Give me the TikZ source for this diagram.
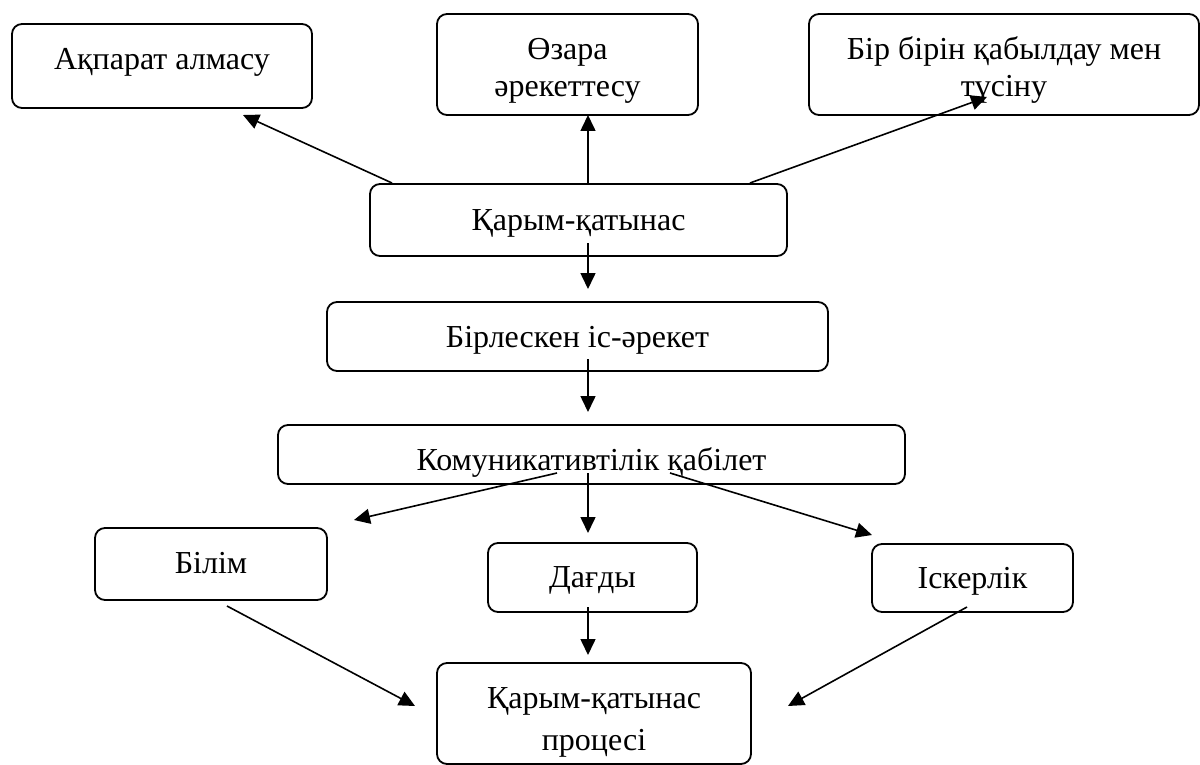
\documentclass[tikz,border=0pt]{standalone}
\usepackage{fontspec}
\setmainfont{Liberation Serif}
\usetikzlibrary{arrows.meta}
\tikzset{
  box/.style={draw, rounded corners=5pt, line width=0.9pt, inner sep=0pt, outer sep=0pt,
    anchor=base, font=\fontsize{16}{18.4}\selectfont},
  arr/.style={line width=0.8pt, -{Triangle[length=8pt,width=7.5pt]}}
}
\begin{document}
\begin{tikzpicture}[x=0.5pt,y=-0.5pt]
\useasboundingbox (0,0) rectangle (1200,765);
% boxes
\node[box, minimum width=150pt, text height=23pt, text depth=19pt] (A) at (162,70) {Ақпарат алмасу};
\node[box, minimum width=130.5pt, text height=23pt, text depth=27.5pt] (B) at (567.5,60)
  {\begin{tabular}[t]{@{}c@{}}Өзара\\әрекеттесу\end{tabular}};
\node[box, minimum width=195pt, text height=23pt, text depth=27.5pt] (C) at (1004,60)
  {\begin{tabular}[t]{@{}c@{}}Бір бірін қабылдау мен\\түсіну\end{tabular}};
\node[box, minimum width=208.5pt, text height=23pt, text depth=13pt] (D) at (578.5,230) {Қарым-қатынас};
\node[box, minimum width=250.5pt, text height=22.5pt, text depth=12pt] (E) at (577.5,347) {Бірлескен іс-әрекет};
\node[box, minimum width=313.5pt, text height=22.5pt, text depth=7pt] (F) at (591.5,470) {Комуникативтілік қабілет};
\node[box, minimum width=116pt, text height=22.5pt, text depth=13.5pt] (G) at (211,573) {Білім};
\node[box, minimum width=104.5pt, text height=22pt, text depth=12.5pt] (H) at (592.5,587) {Дағды};
\node[box, minimum width=100.5pt, text height=22pt, text depth=12pt] (I) at (972.5,588) {Іскерлік};
\node[box, minimum width=157pt, text height=22.5pt, text depth=28pt] (J) at (594,708)
  {\begin{tabular}[t]{@{}c@{}}Қарым-қатынас\\[2.6pt]процесі\end{tabular}};
% connectors
\draw[arr] ([xshift=11pt,yshift=0.5pt]D.north west) -- ([xshift=115.5pt,yshift=-3.5pt]A.south west);
\draw[arr] ([xshift=4.75pt]D.north) -- ([xshift=10.25pt]B.south);
\draw[arr] ([xshift=-18.5pt,yshift=0.5pt]D.north east) -- ([xshift=89pt,yshift=9pt]C.south west);
\draw[arr] ([xshift=4.75pt,yshift=6.5pt]D.south) -- ([xshift=5.25pt,yshift=6.5pt]E.north);
\draw[arr] ([xshift=5.25pt,yshift=6pt]E.south) -- ([xshift=-1.75pt,yshift=6.5pt]F.north);
\draw[arr] ([xshift=-17.25pt,yshift=5.5pt]F.south) -- ([xshift=13.5pt,yshift=4pt]G.north east);
\draw[arr] ([xshift=-1.75pt,yshift=5.5pt]F.south) -- ([xshift=-2.25pt,yshift=5pt]H.north);
\draw[arr] ([xshift=39.25pt,yshift=5.5pt]F.south) -- ([yshift=4.5pt]I.north west);
\draw[arr] ([xshift=8pt,yshift=-3pt]G.south) -- ([xshift=-11pt,yshift=-21.5pt]J.north west);
\draw[arr] ([xshift=-2.25pt,yshift=2.5pt]H.south) -- ([xshift=-3pt,yshift=4pt]J.north);
\draw[arr] ([xshift=-2.75pt,yshift=2.5pt]I.south) -- ([xshift=18.5pt,yshift=-21.5pt]J.north east);
\end{tikzpicture}
\end{document}
